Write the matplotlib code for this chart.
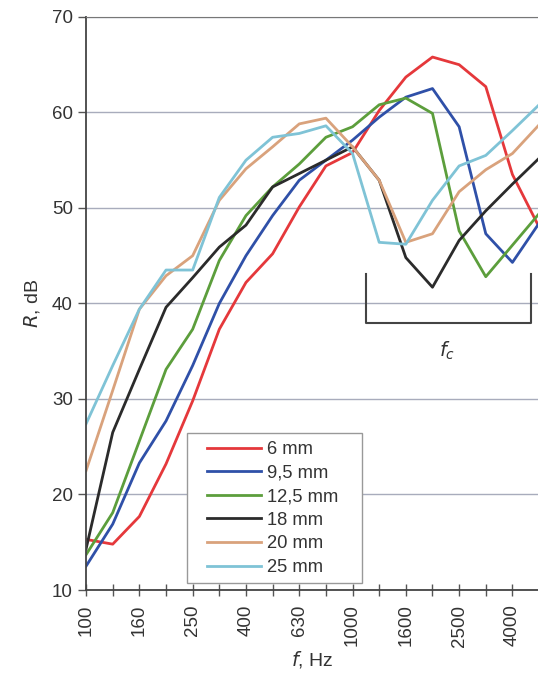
import numpy as np
import matplotlib.pyplot as plt
from matplotlib.patches import Rectangle

plt.rcParams['font.family'] = ['Liberation Sans', 'DejaVu Sans']

# third-octave bands
freqs = [100, 125, 160, 200, 250, 315, 400, 500, 630, 800, 1000,
         1250, 1600, 2000, 2500, 3150, 4000, 5000]
tick_labels = ['100', '160', '250', '400', '630', '1000', '1600', '2500', '4000']

r_6 = [15.3, 14.8, 17.7, 23.2, 29.8, 37.3, 42.2, 45.2, 50.1, 54.4, 55.8,
       60.2, 63.7, 65.8, 65.0, 62.7, 53.5, 48.0]
r_95 = [12.5, 16.9, 23.3, 27.7, 33.5, 40.0, 45.0, 49.2, 52.9, 55.0, 57.1,
        59.5, 61.6, 62.5, 58.5, 47.3, 44.3, 48.4]
r_125 = [13.7, 18.1, 25.6, 33.1, 37.3, 44.5, 49.2, 52.2, 54.6, 57.4, 58.5,
         60.8, 61.5, 59.9, 47.6, 42.8, 46.1, 49.4]
r_18 = [14.3, 26.5, 33.1, 39.6, 42.7, 45.9, 48.2, 52.2, 53.6, 55.0, 56.4,
        52.9, 44.8, 41.7, 46.6, 49.7, 52.5, 55.2]
r_20 = [22.5, 30.9, 39.4, 42.9, 45.0, 50.8, 54.1, 56.4, 58.8, 59.4, 56.4,
        52.9, 46.4, 47.3, 51.7, 54.0, 55.7, 58.7]
r_25 = [27.4, 33.5, 39.4, 43.5, 43.5, 51.1, 55.0, 57.4, 57.8, 58.6, 55.7,
        46.4, 46.2, 50.8, 54.4, 55.5, 58.1, 60.8]

series = [('6 mm', r_6, '#e5383b'),
          ('9,5 mm', r_95, '#2f50a8'),
          ('12,5 mm', r_125, '#5c9e3c'),
          ('18 mm', r_18, '#2b2b2b'),
          ('20 mm', r_20, '#d9a27c'),
          ('25 mm', r_25, '#7fc3d6')]

x = np.arange(len(freqs))

fig = plt.figure(figsize=(5.38, 6.77), dpi=100)
ax = fig.add_axes([0.160, 0.1285, 0.842, 0.8465])

for name, vals, col in series:
    ax.plot(x, vals, color=col, lw=2.0, label=name)

ax.set_xlim(0, 16.95)
ax.set_ylim(10, 70)
ax.set_yticks(np.arange(10, 71, 10))
ax.yaxis.grid(True, color='#a8acbc', lw=1.0)
ax.set_axisbelow(True)

ax.set_xticks(x)
ax.set_xticklabels([str(f) if str(f) in tick_labels else '' for f in freqs],
                   rotation=90, fontsize=13.5, color='#333333')
ax.tick_params(axis='x', direction='inout', length=9, width=1, color='#555555', pad=6)
ax.tick_params(axis='y', direction='out', length=6, width=1, color='#555555',
               labelsize=13.5, labelcolor='#333333')

for s in ['left', 'bottom']:
    ax.spines[s].set_color('#444444')
    ax.spines[s].set_linewidth(1.3)
ax.spines['top'].set_color('#777777')
ax.spines['right'].set_visible(False)

# critical frequency bracket
ax.plot([10.49, 10.49, 16.7, 16.7], [43.1, 38.0, 38.0, 43.1],
        color='#444444', lw=1.5, clip_on=False)
ax.text(13.56, 35.0, r'$f_c$', fontsize=14, ha='center', va='center', color='#333333')

ax.set_ylabel(r'$R$, dB', fontsize=14, color='#333333', labelpad=7)
ax.set_xlabel(r'$f$, Hz', fontsize=14, color='#333333', labelpad=2)

# legend box drawn by hand so that padding matches
ax.add_patch(Rectangle((0.2235, 0.012), 0.385, 0.262, transform=ax.transAxes,
                       facecolor='white', edgecolor='#999999', lw=1.0, zorder=4))
leg = ax.legend(loc='upper left', bbox_to_anchor=(0.268, 0.260), fontsize=13.2,
                frameon=False, handlelength=2.9, handletextpad=0.35,
                labelspacing=0.36, borderpad=0, borderaxespad=0)
leg.set_zorder(5)
for t in leg.get_texts():
    t.set_color('#333333')

plt.savefig('out.png', dpi=100)
